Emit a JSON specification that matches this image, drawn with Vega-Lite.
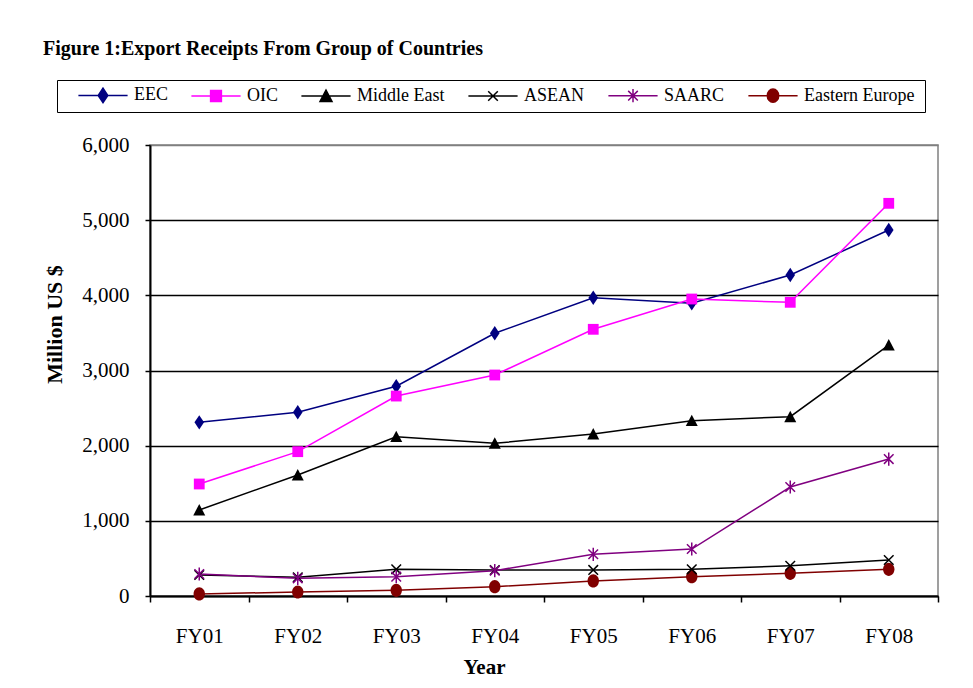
{
  "$schema": "https://vega.github.io/schema/vega-lite/v6.json",
  "width": 788,
  "height": 451,
  "autosize": {"type": "none"},
  "padding": {"left": 150, "top": 145, "right": 35, "bottom": 92},
  "background": "white",
  "title": {
    "text": "Figure 1:Export Receipts From Group of Countries",
    "anchor": "start",
    "frame": "group",
    "font": "Liberation Serif",
    "fontSize": 20,
    "fontWeight": "bold",
    "color": "black",
    "dx": -107,
    "dy": 22,
    "offset": 27,
    "baseline": "alphabetic"
  },
  "config": {
    "view": {"stroke": "#808080", "strokeWidth": 1.5},
    "font": "Liberation Serif"
  },
  "data": {
    "values": [
      {"year": "FY01", "series": "EEC", "value": 2310},
      {"year": "FY02", "series": "EEC", "value": 2444},
      {"year": "FY03", "series": "EEC", "value": 2790},
      {"year": "FY04", "series": "EEC", "value": 3495},
      {"year": "FY05", "series": "EEC", "value": 3968},
      {"year": "FY06", "series": "EEC", "value": 3894},
      {"year": "FY07", "series": "EEC", "value": 4270},
      {"year": "FY08", "series": "EEC", "value": 4869},
      {"year": "FY01", "series": "OIC", "value": 1490},
      {"year": "FY02", "series": "OIC", "value": 1920},
      {"year": "FY03", "series": "OIC", "value": 2660},
      {"year": "FY04", "series": "OIC", "value": 2940},
      {"year": "FY05", "series": "OIC", "value": 3548},
      {"year": "FY06", "series": "OIC", "value": 3951},
      {"year": "FY07", "series": "OIC", "value": 3907},
      {"year": "FY08", "series": "OIC", "value": 5224},
      {"year": "FY01", "series": "Middle East", "value": 1144},
      {"year": "FY02", "series": "Middle East", "value": 1610},
      {"year": "FY03", "series": "Middle East", "value": 2119},
      {"year": "FY04", "series": "Middle East", "value": 2031},
      {"year": "FY05", "series": "Middle East", "value": 2155},
      {"year": "FY06", "series": "Middle East", "value": 2332},
      {"year": "FY07", "series": "Middle East", "value": 2385},
      {"year": "FY08", "series": "Middle East", "value": 3339},
      {"year": "FY01", "series": "ASEAN", "value": 279},
      {"year": "FY02", "series": "ASEAN", "value": 249},
      {"year": "FY03", "series": "ASEAN", "value": 355},
      {"year": "FY04", "series": "ASEAN", "value": 346},
      {"year": "FY05", "series": "ASEAN", "value": 347},
      {"year": "FY06", "series": "ASEAN", "value": 355},
      {"year": "FY07", "series": "ASEAN", "value": 403},
      {"year": "FY08", "series": "ASEAN", "value": 479},
      {"year": "FY01", "series": "SAARC", "value": 293},
      {"year": "FY02", "series": "SAARC", "value": 235},
      {"year": "FY03", "series": "SAARC", "value": 257},
      {"year": "FY04", "series": "SAARC", "value": 337},
      {"year": "FY05", "series": "SAARC", "value": 555},
      {"year": "FY06", "series": "SAARC", "value": 625},
      {"year": "FY07", "series": "SAARC", "value": 1450},
      {"year": "FY08", "series": "SAARC", "value": 1822},
      {"year": "FY01", "series": "Eastern Europe", "value": 27},
      {"year": "FY02", "series": "Eastern Europe", "value": 53},
      {"year": "FY03", "series": "Eastern Europe", "value": 76},
      {"year": "FY04", "series": "Eastern Europe", "value": 124},
      {"year": "FY05", "series": "Eastern Europe", "value": 200},
      {"year": "FY06", "series": "Eastern Europe", "value": 257},
      {"year": "FY07", "series": "Eastern Europe", "value": 302},
      {"year": "FY08", "series": "Eastern Europe", "value": 355}
    ]
  },
  "encoding": {
    "x": {
      "field": "year",
      "type": "ordinal",
      "scale": {"type": "band", "paddingInner": 0, "paddingOuter": 0},
      "axis": {
        "title": "Year",
        "titleFont": "Liberation Serif",
        "titleFontSize": 21,
        "titleFontWeight": "bold",
        "titleColor": "black",
        "titleX": 334,
        "titleY": 77,
        "titleBaseline": "alphabetic",
        "titleAlign": "center",
        "labelAngle": 0,
        "labelFont": "Liberation Serif",
        "labelFontSize": 21,
        "labelColor": "black",
        "labelPadding": 23,
        "tickBand": "extent",
        "tickSize": 6,
        "tickColor": "black",
        "tickWidth": 1.5,
        "domainColor": "black",
        "domainWidth": 2,
        "grid": false
      }
    },
    "y": {
      "field": "value",
      "type": "quantitative",
      "scale": {"domain": [0, 6000], "nice": false},
      "axis": {
        "title": "Million US $",
        "titleFont": "Liberation Serif",
        "titleFontSize": 22,
        "titleFontWeight": "bold",
        "titleColor": "black",
        "titleX": -96,
        "titleY": 179,
        "titleAngle": -90,
        "titleBaseline": "middle",
        "titleAlign": "center",
        "values": [0, 1000, 2000, 3000, 4000, 5000, 6000],
        "format": ",.0f",
        "labelFont": "Liberation Serif",
        "labelFontSize": 21,
        "labelColor": "black",
        "labelPadding": 16,
        "tickSize": 5,
        "tickColor": "black",
        "tickWidth": 1.5,
        "domainColor": "black",
        "domainWidth": 2,
        "grid": true,
        "gridColor": {"condition": {"test": "datum.value == 6000", "value": "#808080"}, "value": "black"},
        "gridWidth": 1.5
      }
    },
    "color": {
      "field": "series",
      "type": "nominal",
      "scale": {
        "domain": ["EEC", "OIC", "Middle East", "ASEAN", "SAARC", "Eastern Europe"],
        "range": ["#000080", "#FF00FF", "#000000", "#000000", "#800080", "#800000"]
      },
      "legend": {
        "orient": "none",
        "legendX": -93,
        "legendY": -65,
        "direction": "horizontal",
        "columns": 6,
        "title": "\u00a0\u00a0\u00a0\u00a0\u00a0",
        "titleOrient": "left",
        "titleFont": "Liberation Serif",
        "titleFontSize": 18,
        "titlePadding": 31,
        "strokeColor": "black",
        "padding": 6,
        "columnPadding": 20,
        "labelFont": "Liberation Serif",
        "labelFontSize": 18,
        "labelColor": "black",
        "symbolSize": 144,
        "symbolStrokeWidth": 1.5,
        "symbolOpacity": 1,
        "labelOffset": 22,
        "symbolType": {"expr": "'M-4.1,0H4.1' + (datum.value == 'EEC' ? 'M0,-1.2L0.8,0L0,1.2L-0.8,0Z' : datum.value == 'OIC' ? 'M-0.9,-0.9H0.9V0.9H-0.9Z' : datum.value == 'Middle East' ? 'M0,-1L1,0.9H-1Z' : datum.value == 'ASEAN' ? 'M-0.8,-0.8L0.8,0.8M-0.8,0.8L0.8,-0.8' : datum.value == 'SAARC' ? 'M-0.8,-0.8L0.8,0.8M-0.8,0.8L0.8,-0.8M0,-1.1L0,1.1' : 'M-0.95,0A0.95,1.1 0 1,0 0.95,0A0.95,1.1 0 1,0 -0.95,0Z')"},
        "labelExpr": "datum.label == 'Eastern Europe' ? 'Eastern  Europe\u00a0\u00a0\u00a0\u00a0\u00a0' : datum.label"
      }
    }
  },
  "layer": [
    {"mark": {"type": "line", "strokeWidth": 1.5}},
    {
      "transform": [{"filter": "datum.series != 'ASEAN' && datum.series != 'SAARC'"}],
      "mark": {
        "type": "point",
        "filled": true,
        "size": 144,
        "opacity": 1,
        "shape": {"expr": "datum.series == 'EEC' ? 'M0,-1.2L0.8,0L0,1.2L-0.8,0Z' : datum.series == 'OIC' ? 'M-0.9,-0.9H0.9V0.9H-0.9Z' : datum.series == 'Middle East' ? 'M0,-1L1,0.9H-1Z' : 'M-0.95,0A0.95,1.1 0 1,0 0.95,0A0.95,1.1 0 1,0 -0.95,0Z'"}
      }
    },
    {
      "transform": [{"filter": "datum.series == 'ASEAN' || datum.series == 'SAARC'"}],
      "mark": {
        "type": "point",
        "filled": false,
        "size": 144,
        "strokeWidth": 1.5,
        "opacity": 1,
        "shape": {"expr": "datum.series == 'ASEAN' ? 'M-0.8,-0.8L0.8,0.8M-0.8,0.8L0.8,-0.8' : 'M-0.8,-0.8L0.8,0.8M-0.8,0.8L0.8,-0.8M0,-1.1L0,1.1'"}
      }
    }
  ]
}
